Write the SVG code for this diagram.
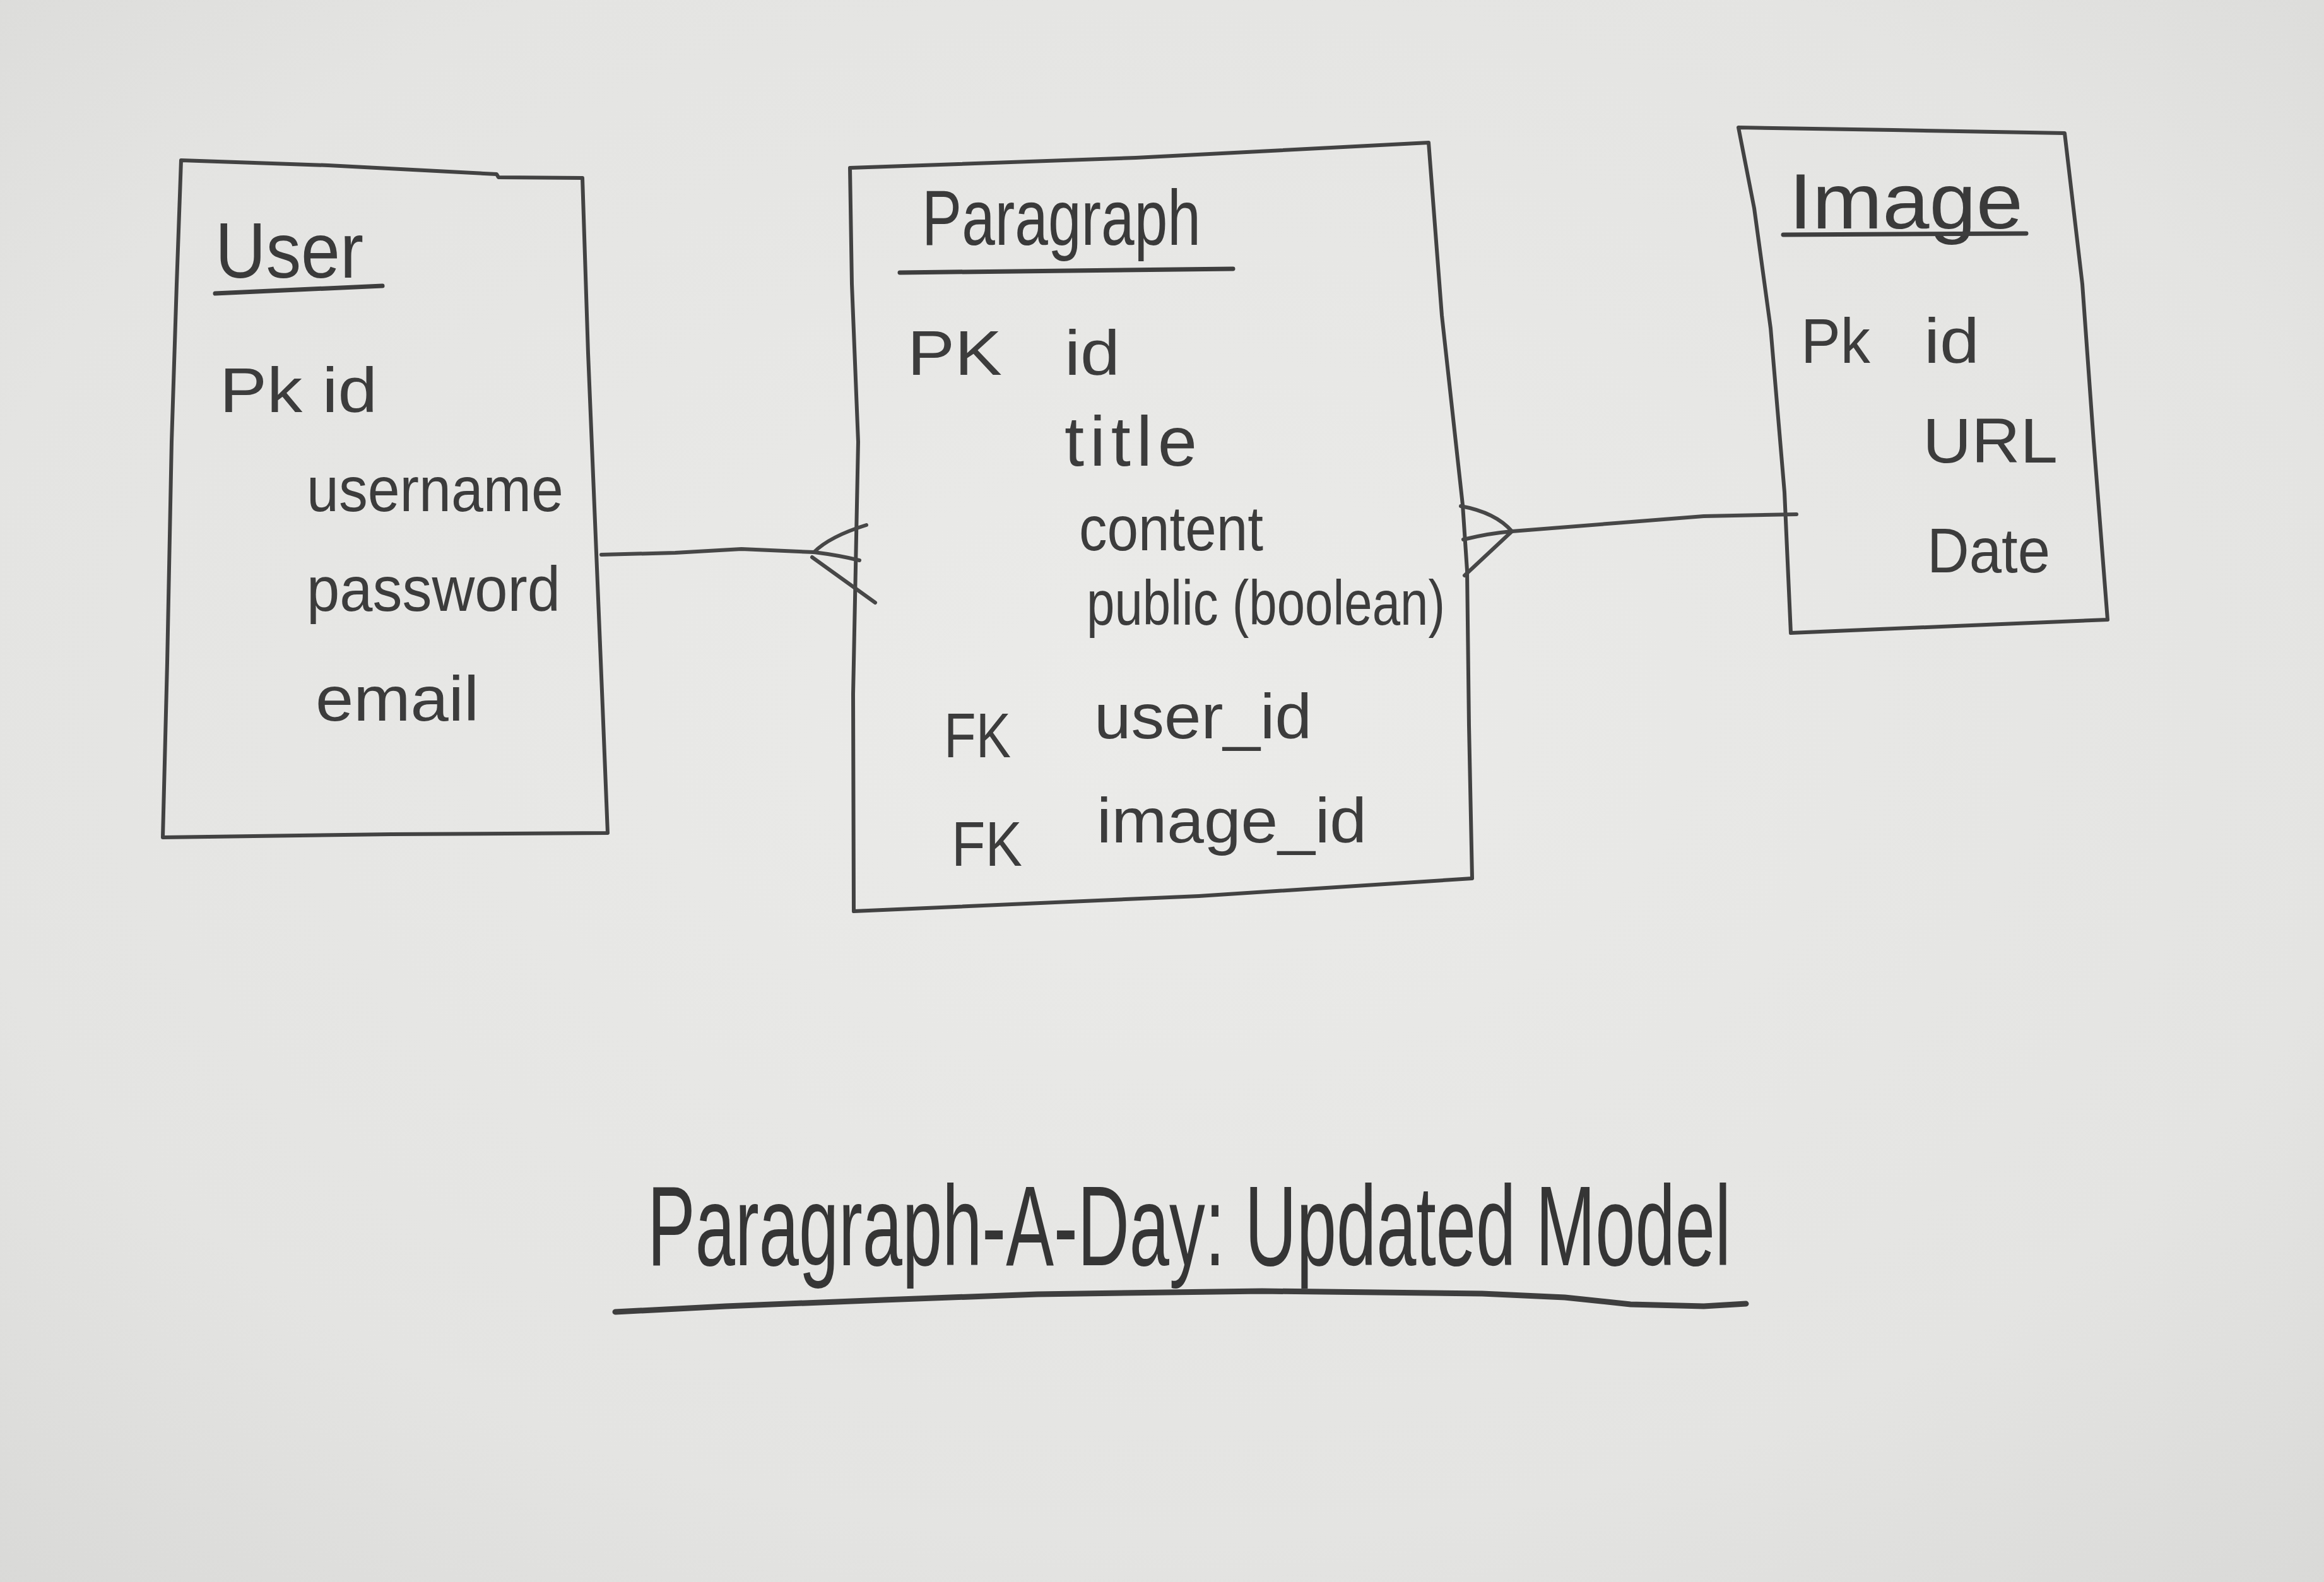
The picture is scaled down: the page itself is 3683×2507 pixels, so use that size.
<svg xmlns="http://www.w3.org/2000/svg" width="3683" height="2507" viewBox="0 0 3683 2507">
  <defs>
    <radialGradient id="paper" cx="50%" cy="45%" r="75%">
      <stop offset="0" stop-color="#ebebe9"/>
      <stop offset="0.7" stop-color="#e4e4e2"/>
      <stop offset="1" stop-color="#d9d9d7"/>
    </radialGradient>
    <style>
      .box { fill: none; stroke: #424242; stroke-width: 6; stroke-linejoin: round; stroke-linecap: round; }
      .rule { fill: none; stroke: #3e3e3e; stroke-width: 7; stroke-linecap: round; }
      .wire { fill: none; stroke: #474747; stroke-width: 6; stroke-linecap: round; stroke-linejoin: round; }
      .title { font-family: "Liberation Sans", Arial, sans-serif; fill: #3a3a3a; font-size: 125px; }
      .attr { font-family: "Liberation Sans", Arial, sans-serif; fill: #3c3c3c; font-size: 100px; }
      .caption { font-family: "Liberation Sans", Arial, sans-serif; fill: #353535; font-size: 180px; }
    </style>
  </defs>

  <!-- paper -->
  <rect x="0" y="0" width="3683" height="2507" fill="url(#paper)"/>

  <!-- entity: User -->
  <g id="user">
    <path class="box" d="M287,254 L520,262 L787,276 L790,281 L923,282 L932,560 L946,900 L955,1120 L963,1320 L620,1322 L258,1327 L265,1050 L272,700 L280,450 Z"/>
    <text class="title" x="341" y="440" textLength="235" lengthAdjust="spacingAndGlyphs">User</text>
    <path class="rule" d="M341,465 L606,453"/>
    <text class="attr" x="348" y="653" textLength="250" lengthAdjust="spacingAndGlyphs">Pk id</text>
    <text class="attr" x="486" y="810" textLength="407" lengthAdjust="spacingAndGlyphs">username</text>
    <text class="attr" x="486" y="968" textLength="402" lengthAdjust="spacingAndGlyphs">password</text>
    <text class="attr" x="500" y="1142" textLength="259" lengthAdjust="spacingAndGlyphs">email</text>
  </g>

  <!-- entity: Paragraph -->
  <g id="paragraph">
    <path class="box" d="M1347,266 L1800,250 L2264,226 L2285,500 L2318,800 L2325,904 L2328,1150 L2333,1392 L1900,1420 L1353,1444 L1352,1100 L1360,700 L1350,450 Z"/>
    <text class="title" x="1461" y="388" textLength="442" lengthAdjust="spacingAndGlyphs">Paragraph</text>
    <path class="rule" d="M1426,432 L1954,426"/>
    <text class="attr" x="1438" y="594" textLength="150" lengthAdjust="spacingAndGlyphs">PK</text>
    <text class="attr" x="1687" y="594" textLength="88" lengthAdjust="spacingAndGlyphs">id</text>
    <text class="attr" x="1687" y="738" textLength="210" lengthAdjust="spacing" style="font-size:112px">title</text>
    <text class="attr" x="1710" y="872" textLength="292" lengthAdjust="spacingAndGlyphs">content</text>
    <text class="attr" x="1722" y="990" textLength="568" lengthAdjust="spacingAndGlyphs">public (boolean)</text>
    <text class="attr" x="1496" y="1200" textLength="106" lengthAdjust="spacingAndGlyphs">FK</text>
    <text class="attr" x="1734" y="1170" textLength="345" lengthAdjust="spacingAndGlyphs">user_id</text>
    <text class="attr" x="1508" y="1372" textLength="112" lengthAdjust="spacingAndGlyphs">FK</text>
    <text class="attr" x="1738" y="1335" textLength="428" lengthAdjust="spacingAndGlyphs">image_id</text>
  </g>

  <!-- entity: Image -->
  <g id="image">
    <path class="box" d="M2755,202 L3000,206 L3272,211 L3300,450 L3318,700 L3340,982 L3100,992 L2838,1003 L2828,780 L2806,520 L2780,330 Z"/>
    <text class="title" x="2835" y="362" textLength="371" lengthAdjust="spacingAndGlyphs">Image</text>
    <path class="rule" d="M2826,372 L3211,370"/>
    <text class="attr" x="2854" y="575" textLength="110" lengthAdjust="spacingAndGlyphs">Pk</text>
    <text class="attr" x="3049" y="575" textLength="88" lengthAdjust="spacingAndGlyphs">id</text>
    <text class="attr" x="3047" y="733" textLength="214" lengthAdjust="spacingAndGlyphs">URL</text>
    <text class="attr" x="3054" y="907" textLength="195" lengthAdjust="spacingAndGlyphs">Date</text>
  </g>

  <!-- relationships (one-to-many, crow's foot on Paragraph) -->
  <g id="connectors">
    <path class="wire" d="M953,879 L1070,876 L1175,870 L1290,875"/>
    <path class="wire" d="M1290,875 Q1315,850 1373,832"/>
    <path class="wire" d="M1290,875 Q1330,880 1362,888"/>
    <path class="wire" d="M1287,883 L1387,955"/>

    <path class="wire" d="M2847,815 L2700,818 L2560,829 L2396,842"/>
    <path class="wire" d="M2396,842 Q2370,812 2315,802"/>
    <path class="wire" d="M2396,842 Q2360,845 2319,855"/>
    <path class="wire" d="M2396,842 L2321,912"/>
  </g>

  <!-- caption, condensed horizontally -->
  <g id="caption">
    <text class="caption" transform="translate(1026,2005) scale(0.631,1)" x="0" y="0">Paragraph-A-Day: Updated Model</text>
    <path class="rule" d="M975,2079 L1150,2070 L1400,2060 L1644,2051 L2000,2046 L2349,2050 L2480,2056 L2584,2067 L2700,2070 L2767,2066" style="stroke-width:9"/>
  </g>
</svg>
